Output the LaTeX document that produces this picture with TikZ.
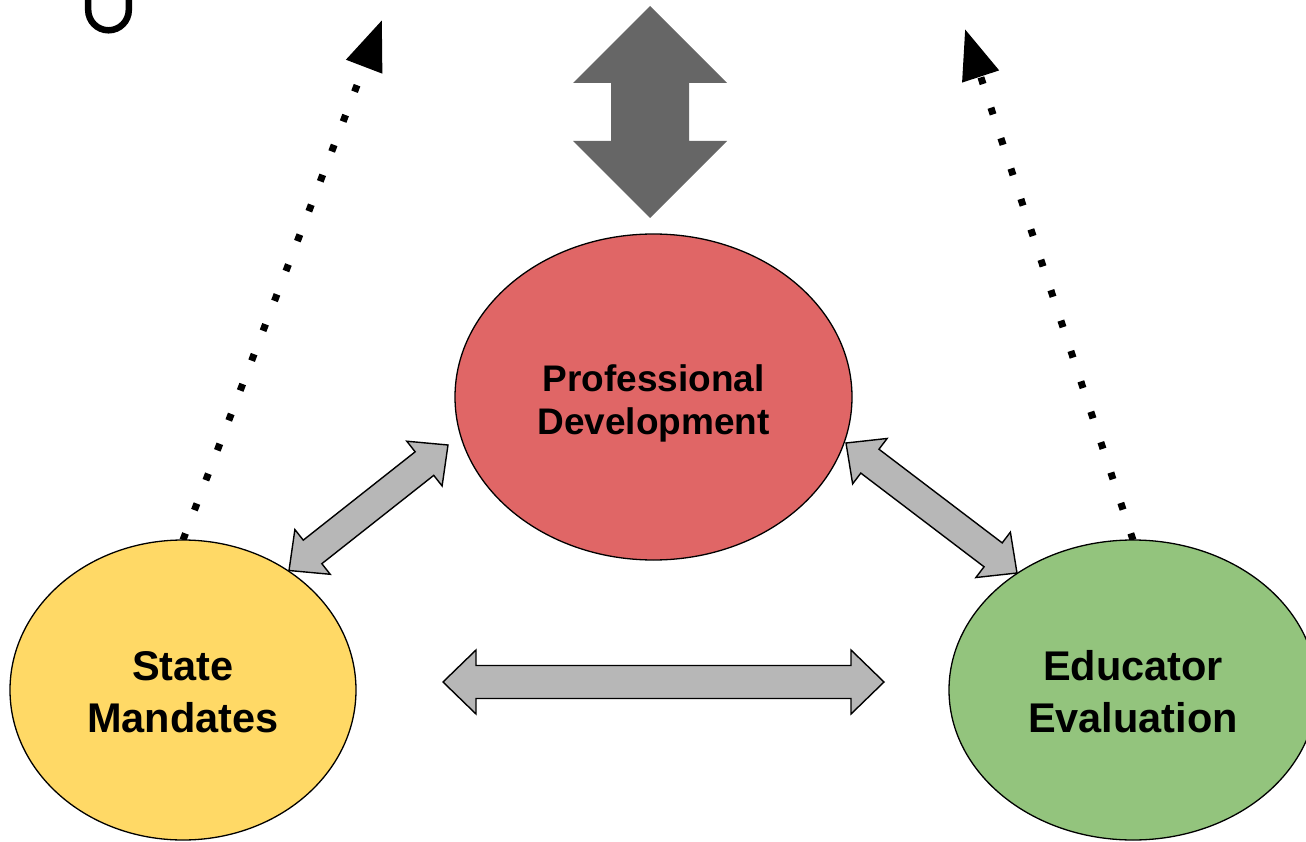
\documentclass[tikz,border=0pt]{standalone}
\usepackage{fontspec}
\setmainfont{Liberation Sans}
\usetikzlibrary{calc,shapes.geometric,arrows.meta}
\definecolor{pdred}{HTML}{E06666}
\definecolor{smyellow}{HTML}{FFD966}
\definecolor{eegreen}{HTML}{93C47D}
\definecolor{arrowgray}{HTML}{B7B7B7}
\definecolor{darkgray}{HTML}{666666}
% double block arrow between two named points: style, A, B, head length, head half-width, shaft half-width
\newcommand{\mydblarrow}[6]{%
  \draw[#1] (#2)
    -- ($(#2)!#4!(#3)!#5!90:(#3)$) -- ($(#2)!#4!(#3)!#6!90:(#3)$)
    -- ($(#3)!#4!(#2)!#6!-90:(#2)$) -- ($(#3)!#4!(#2)!#5!-90:(#2)$)
    -- (#3)
    -- ($(#3)!#4!(#2)!#5!90:(#2)$) -- ($(#3)!#4!(#2)!#6!90:(#2)$)
    -- ($(#2)!#4!(#3)!#6!-90:(#3)$) -- ($(#2)!#4!(#3)!#5!-90:(#3)$)
    -- cycle;}
\tikzset{
  bubble/.style={ellipse, draw=black, line width=1.3pt, inner sep=0pt, align=center, font=\bfseries},
  dotline/.style={line width=7pt, dash pattern=on 7pt off 25pt, -{Triangle[length=50pt,width=37pt]}},
  grayarrow/.style={fill=arrowgray, draw=black, line width=1.4pt, line join=miter},
  darkarrow/.style={fill=darkgray, draw=none},
  glyph/.style={line width=6.5pt}
}
\begin{document}
\begin{tikzpicture}[x=1pt,y=-1pt]
\useasboundingbox (0,0) rectangle (1306,842);

% partial glyph at top left
\draw[glyph] (88.2,-5) -- (88.2,10) .. controls (88.2,21.2) and (97.3,30.3) .. (108.5,30.3)
  .. controls (119.7,30.3) and (128.8,21.2) .. (128.8,10) -- (128.8,-5);

% coordinates for free ends
\coordinate (t1) at (382,20);
\coordinate (t2) at (965,29);
\coordinate (v1) at (650,6);
\coordinate (v2) at (650,218);

% dotted arrows (drawn first, beneath the ellipses)
\coordinate (smtop) at (183,540);
\coordinate (eetop) at (1133,540);
\draw[dotline] (smtop) -- (t1);
\draw[dotline] (eetop) -- (t2);

% ellipses
\node[bubble, fill=pdred, minimum width=397pt, minimum height=326pt, text height=82pt,
      font=\bfseries\fontsize{37}{43}\selectfont] (pd) at (653.5,397) {Professional\\Development};
\node[bubble, fill=smyellow, minimum width=346pt, minimum height=300pt, text height=86pt,
      font=\bfseries\fontsize{41.5}{52}\selectfont] (sm) at (183,690) {State\\Mandates};
\node[bubble, fill=eegreen, minimum width=368pt, minimum height=300pt, text height=86pt,
      font=\bfseries\fontsize{41.5}{52}\selectfont] (ee) at (1133,690) {Educator\\Evaluation};

% dark vertical double arrow
\mydblarrow{darkarrow}{v1}{v2}{77pt}{77pt}{39pt}

% gray double arrows
\coordinate (a1) at (289,570.5);
\coordinate (a2) at (448,445);
\coordinate (b1) at (846,443);
\coordinate (b2) at (1017,573);
\coordinate (c1) at (443,682);
\coordinate (c2) at (884,682);
\mydblarrow{grayarrow}{a1}{a2}{30pt}{28.5pt}{15pt}
\mydblarrow{grayarrow}{b1}{b2}{30pt}{28.5pt}{15pt}
\mydblarrow{grayarrow}{c1}{c2}{33pt}{32pt}{16.5pt}
\end{tikzpicture}
\end{document}
